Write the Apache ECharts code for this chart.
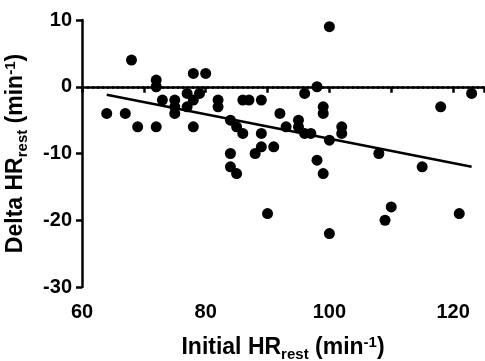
<!DOCTYPE html>
<html>
<head>
<meta charset="utf-8">
<script src="https://cdn.jsdelivr.net/npm/echarts@6/dist/echarts.min.js"></script>
<style>
html,body{margin:0;padding:0;background:#fff;}
#c{width:485px;height:361px;}
</style>
</head>
<body>
<div id="c"></div>
<script>
// Data
const initialHR = [64,67,68,69,72,72,72,73,75,75,75,77,77,78,78,78,79,80,82,82,84,84,84,85,85,86,86,87,88,89,89,89,90,91,92,93,95,95,96,96,97,98,98,99,99,99,100,100,100,102,102,108,109,110,115,118,121,123];
const deltaHR   = [-4,-4,4,-6,-6,1,0,-2,-2,-3,-4,-1,-3,2,-2,-6,-1,2,-2,-3,-5,-10,-12,-6,-13,-2,-7,-2,-10,-2,-7,-9,-19,-9,-4,-6,-5,-6,-1,-7,-7,0,-11,-3,-4,-13,9,-8,-22,-6,-7,-10,-20,-18,-12,-3,-19,-1];
const xTicks = [60, 80, 100, 120];
const yTicks = [-30, -20, -10, 0, 10];

const points = initialHR.map((x, i) => [x, deltaHR[i]]);

// least-squares fit
const n = initialHR.length;
const mx = initialHR.reduce((a, b) => a + b, 0) / n;
const my = deltaHR.reduce((a, b) => a + b, 0) / n;
let sxy = 0, sxx = 0;
for (let i = 0; i < n; i++) { sxy += (initialHR[i] - mx) * (deltaHR[i] - my); sxx += (initialHR[i] - mx) ** 2; }
const slope = sxy / sxx, icpt = my - slope * mx;
const xmin = Math.min(...initialHR), xmax = Math.max(...initialHR);
const fit = [[xmin, icpt + slope * xmin], [xmax, icpt + slope * xmax]];

const FONT = '"Liberation Sans", Arial, sans-serif';
const titleRich = {
  b: { fontFamily: FONT, fontWeight: 'bold', fontSize: 23, color: '#000' },
  sub: { fontFamily: FONT, fontWeight: 'bold', fontSize: 15, color: '#000', padding: [13, 0, 0, 0] },
  sup: { fontFamily: FONT, fontWeight: 'bold', fontSize: 15, color: '#000', padding: [0, 0, 11, 0] }
};
const chart = echarts.init(document.getElementById('c'));
chart.setOption({
  animation: false,
  grid: { left: 82, right: 1, top: 20, bottom: 74, outerBoundsMode: 'none', containLabel: false },
  xAxis: {
    type: 'value', min: 60, max: 125, interval: 20,
    name: '{b|Initial HR}{sub|rest}{b| (min}{sup|-1}{b|)}',
    nameLocation: 'middle', nameGap: 47,
    nameTextStyle: { rich: titleRich },
    axisLine: { lineStyle: { color: '#000', width: 2.5 } },
    axisTick: { show: true, length: 6, lineStyle: { color: '#000', width: 2.5 } },
    minorTick: { show: true, splitNumber: 2, length: 6, lineStyle: { color: '#000', width: 2.5 } },
    axisLabel: { color: '#000', fontFamily: FONT, fontWeight: 'bold', fontSize: 20, margin: 15,
      formatter: v => xTicks.includes(v) ? String(v) : '' },
    splitLine: { show: false }
  },
  yAxis: {
    type: 'value', min: -30, max: 10, interval: 10,
    name: '{b|Delta HR}{sub|rest}{b| (min}{sup|-1}{b|)}',
    nameLocation: 'middle', nameGap: 52, nameRotate: 90,
    nameTextStyle: { rich: titleRich },
    axisLine: { show: true, lineStyle: { color: '#000', width: 2.5 } },
    axisTick: { show: true, length: 6, lineStyle: { color: '#000', width: 2.5 } },
    axisLabel: { color: '#000', fontFamily: FONT, fontWeight: 'bold', fontSize: 20, margin: 10,
      formatter: v => yTicks.includes(v) ? String(v) : '' },
    splitLine: { show: false }
  },
  series: [
    {
      type: 'scatter', data: points, symbol: 'circle', symbolSize: 11,
      itemStyle: { color: '#000', opacity: 1 },
      markLine: {
        silent: true, symbol: ['none', 'none'], label: { show: false },
        lineStyle: { color: '#000', type: [2, 3], width: 2.5, opacity: 1 },
        data: [{ yAxis: 0 }]
      }
    },
    {
      type: 'line', data: fit, symbol: 'none',
      lineStyle: { color: '#000', width: 2.5 }
    }
  ]
});
</script>
</body>
</html>
